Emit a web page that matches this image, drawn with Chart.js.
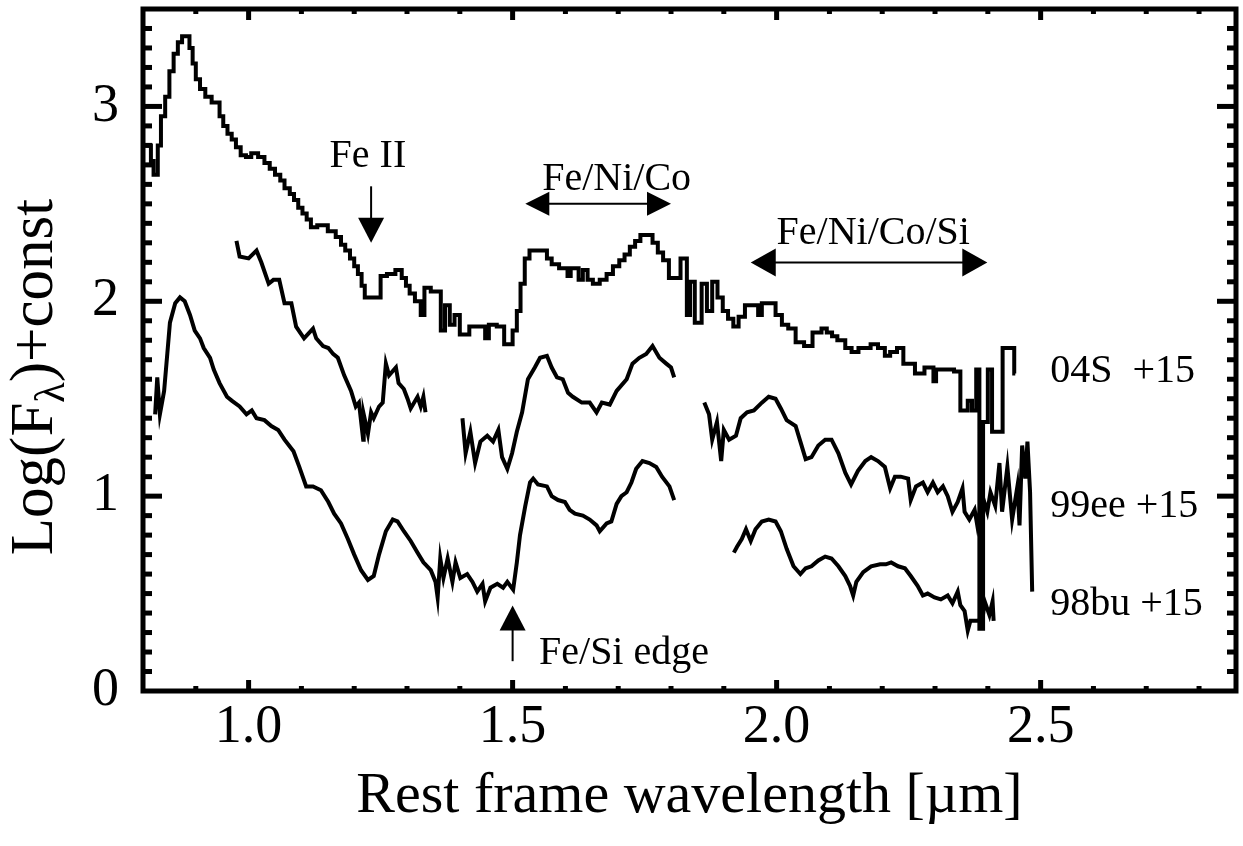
<!DOCTYPE html>
<html>
<head>
<meta charset="utf-8">
<script src="https://cdn.jsdelivr.net/npm/chart.js@4.4.1/dist/chart.umd.min.js"></script>
<style>
	body { margin: 0; background: #fff; }
	#wrap { width: 1243px; height: 846px; }
</style>
</head>
<body>
<div id="wrap"><canvas id="chart" width="1243" height="846"></canvas></div>
<script>
// SN 2004S, binned spectrum (drawn as steps)
const sn04sWave = [
	0.806,0.815,0.820,0.828,0.834,0.842,0.850,0.858,0.866,0.874,
	0.888,0.894,0.900,0.908,0.918,0.930,0.945,0.952,0.960,0.968,
	0.976,0.985,0.995,1.005,1.018,1.030,1.040,1.050,1.060,1.068,
	1.078,1.086,1.094,1.102,1.110,1.118,1.130,1.150,1.165,1.175,
	1.183,1.192,1.200,1.207,1.214,1.220,1.250,1.262,1.278,1.290,
	1.298,1.305,1.315,1.326,1.333,1.345,1.364,1.372,1.381,1.390,
	1.400,1.418,1.432,1.448,1.455,1.470,1.484,1.500,1.508,1.515,
	1.523,1.532,1.565,1.574,1.588,1.604,1.610,1.625,1.633,1.642,
	1.652,1.665,1.678,1.690,1.702,1.712,1.722,1.732,1.742,1.765,
	1.775,1.785,1.796,1.818,1.830,1.836,1.845,1.858,1.868,1.878,
	1.888,1.898,1.908,1.918,1.928,1.940,1.965,1.972,1.998,2.010,
	2.022,2.036,2.052,2.068,2.085,2.095,2.105,2.115,2.130,2.142,
	2.155,2.178,2.192,2.205,2.215,2.228,2.240,2.262,2.280,2.297,
	2.302,2.336,2.348,2.362,2.370,2.378,2.384,2.391,2.400,2.408,
	2.428,2.450,2.452
];
const sn04sFlux = [
	2.80,2.72,2.65,2.80,2.95,3.05,3.18,3.27,3.33,3.36,
	3.30,3.22,3.14,3.09,3.05,3.02,2.95,2.90,2.86,2.83,
	2.79,2.75,2.74,2.76,2.74,2.71,2.68,2.65,2.62,2.58,
	2.55,2.52,2.48,2.45,2.42,2.38,2.39,2.36,2.33,2.29,
	2.26,2.22,2.18,2.14,2.08,2.02,2.13,2.14,2.16,2.12,
	2.08,2.04,2.00,1.93,2.07,2.05,1.85,1.98,1.88,1.93,
	1.83,1.87,1.87,1.81,1.88,1.87,1.78,1.85,1.95,2.09,
	2.22,2.26,2.22,2.19,2.17,2.13,2.17,2.11,2.16,2.11,
	2.09,2.11,2.14,2.18,2.21,2.24,2.28,2.31,2.34,2.30,
	2.25,2.21,2.12,2.22,1.93,2.10,1.89,2.09,1.95,2.10,
	2.02,1.95,1.91,1.87,1.92,1.98,1.93,1.99,1.93,1.88,
	1.86,1.79,1.77,1.84,1.86,1.84,1.82,1.80,1.76,1.74,
	1.76,1.78,1.76,1.72,1.74,1.76,1.68,1.63,1.66,1.59,
	1.65,1.64,1.44,1.49,1.44,1.65,0.32,1.38,1.65,1.33,
	1.76,1.63,1.63
];

// SN 1999ee, three pieces (gaps at the telluric bands)
const sn99eeWaveA = [0.977,0.983,1.000,1.015,1.024,1.038,1.047,1.058,1.068,1.081,1.090,1.105,1.122,1.128,1.141,1.151,1.160,1.169,1.181,1.194,1.203,1.209,1.217,1.218,1.226,1.232,1.237,1.247,1.254,1.260,1.266,1.279,1.284,1.294,1.301,1.307,1.320,1.326,1.331,1.335];
const sn99eeFluxA = [2.31,2.23,2.22,2.26,2.20,2.09,2.11,2.11,1.99,1.99,1.87,1.81,1.86,1.81,1.77,1.76,1.73,1.71,1.62,1.54,1.46,1.48,1.29,1.42,1.32,1.43,1.40,1.46,1.48,1.68,1.62,1.66,1.58,1.55,1.50,1.45,1.51,1.46,1.51,1.43];
const sn99eeWaveB = [1.405,1.411,1.420,1.429,1.439,1.452,1.463,1.473,1.480,1.490,1.499,1.508,1.518,1.529,1.542,1.552,1.565,1.574,1.584,1.595,1.605,1.614,1.631,1.646,1.659,1.669,1.684,1.697,1.716,1.727,1.740,1.753,1.765,1.778,1.791,1.800,1.806];
const sn99eeFluxB = [1.40,1.22,1.33,1.17,1.28,1.31,1.28,1.34,1.20,1.14,1.22,1.33,1.43,1.60,1.66,1.71,1.72,1.66,1.61,1.60,1.53,1.51,1.48,1.48,1.43,1.48,1.47,1.54,1.60,1.68,1.71,1.73,1.77,1.71,1.68,1.66,1.61];
const sn99eeWaveC = [1.863,1.872,1.878,1.887,1.895,1.900,1.910,1.923,1.932,1.944,1.957,1.972,1.985,1.998,2.008,2.019,2.036,2.045,2.055,2.066,2.079,2.092,2.104,2.117,2.130,2.141,2.154,2.168,2.179,2.192,2.205,2.215,2.224,2.235,2.249,2.254,2.264,2.277,2.286,2.296,2.305,2.315,2.324,2.333,2.343,2.352,2.356,2.365,2.375,2.380,2.390,2.399,2.405,2.414,2.422,2.427,2.437,2.446,2.456,2.460,2.465,2.471,2.475,2.480,2.484];
const sn99eeFluxC = [1.48,1.42,1.29,1.38,1.18,1.34,1.29,1.31,1.40,1.43,1.44,1.48,1.51,1.50,1.45,1.39,1.36,1.28,1.19,1.20,1.26,1.29,1.29,1.22,1.12,1.06,1.13,1.18,1.20,1.18,1.15,1.04,1.10,1.10,1.09,0.98,1.05,1.07,1.02,1.07,1.02,1.05,1.00,0.92,0.97,1.04,0.92,0.88,0.93,0.85,1.00,0.92,1.02,0.95,1.17,0.92,1.15,0.88,1.05,0.85,1.26,1.09,1.28,1.02,0.51];

// SN 1998bu, two pieces
const sn98buWaveA = [
	0.823,0.827,0.832,0.840,0.846,0.851,0.861,0.870,0.879,0.889,
	0.898,0.908,0.915,0.927,0.934,0.945,0.959,0.968,0.983,0.996,
	1.006,1.015,1.030,1.043,1.056,1.068,1.085,1.096,1.109,1.122,
	1.137,1.151,1.162,1.175,1.188,1.200,1.213,1.226,1.237,1.247,
	1.260,1.273,1.282,1.294,1.307,1.320,1.331,1.345,1.354,1.358,
	1.363,1.369,1.377,1.386,1.392,1.401,1.414,1.424,1.433,1.443,
	1.448,1.458,1.471,1.482,1.490,1.501,1.508,1.514,1.524,1.533,
	1.539,1.548,1.565,1.574,1.586,1.599,1.608,1.618,1.633,1.646,
	1.659,1.665,1.678,1.687,1.697,1.706,1.716,1.725,1.734,1.746,
	1.759,1.772,1.783,1.797,1.806
];
const sn98buFluxA = [
	1.42,1.61,1.42,1.54,1.73,1.89,1.99,2.02,2.00,1.93,
	1.85,1.81,1.76,1.71,1.65,1.58,1.51,1.49,1.46,1.42,
	1.44,1.40,1.39,1.36,1.34,1.29,1.23,1.15,1.05,1.05,
	1.03,0.97,0.91,0.86,0.78,0.70,0.62,0.57,0.59,0.70,
	0.82,0.88,0.87,0.82,0.77,0.71,0.66,0.62,0.56,0.48,
	0.68,0.58,0.68,0.56,0.66,0.58,0.60,0.56,0.51,0.55,
	0.46,0.53,0.55,0.53,0.56,0.52,0.66,0.80,0.95,1.07,
	1.09,1.06,1.05,1.00,0.98,0.97,0.93,0.91,0.90,0.88,
	0.85,0.82,0.86,0.87,0.96,1.00,1.02,1.07,1.14,1.18,
	1.17,1.15,1.10,1.05,0.98
];
const sn98buWaveB = [1.919,1.925,1.934,1.942,1.951,1.960,1.972,1.985,1.998,2.008,2.019,2.032,2.045,2.055,2.066,2.079,2.092,2.104,2.117,2.130,2.139,2.145,2.151,2.164,2.179,2.196,2.207,2.217,2.230,2.243,2.254,2.267,2.277,2.286,2.299,2.311,2.324,2.333,2.343,2.348,2.356,2.362,2.367,2.380,2.390,2.394,2.403,2.409,2.411];
const sn98buFluxB = [0.71,0.74,0.78,0.83,0.77,0.83,0.87,0.88,0.87,0.82,0.73,0.64,0.60,0.63,0.64,0.67,0.69,0.68,0.64,0.59,0.54,0.49,0.56,0.61,0.64,0.65,0.65,0.66,0.64,0.63,0.59,0.54,0.49,0.50,0.48,0.47,0.49,0.45,0.51,0.44,0.41,0.31,0.36,0.36,0.37,0.46,0.39,0.46,0.36];

const seriesLabels = ['04S  +15', '99ee +15', '98bu +15'];
const xTickValues = [1.0, 1.5, 2.0, 2.5];
const yTickValues = [0, 1, 2, 3];

const serif = '"Liberation Serif", "Times New Roman", serif';

const toPoints = (wave, flux) => wave.map((w, i) => ({ x: w, y: flux[i] }));

const lineSet = (label, wave, flux, stepped) => ({
	label,
	data: toPoints(wave, flux),
	borderColor: '#000',
	borderWidth: 4,
	pointRadius: 0,
	fill: false,
	tension: 0,
	stepped: stepped || false
});

const arrowHead = (ctx, tx, ty, dx, dy, len, half) => {
	// tip at (tx,ty), pointing along (dx,dy)
	ctx.beginPath();
	ctx.moveTo(tx, ty);
	ctx.lineTo(tx - dx * len - dy * half, ty - dy * len + dx * half);
	ctx.lineTo(tx - dx * len + dy * half, ty - dy * len - dx * half);
	ctx.closePath();
	ctx.fill();
};

const decorations = {
	id: 'decorations',
	afterDraw(chart) {
		const { ctx, chartArea: a, scales: { x, y } } = chart;
		ctx.save();
		ctx.fillStyle = '#000';
		ctx.strokeStyle = '#000';

		// frame
		ctx.lineWidth = 5;
		ctx.strokeRect(a.left, a.top, a.right - a.left, a.bottom - a.top);

		// inward ticks on all four sides
		for (let i = 9; i <= 28; i++) {
			const px = x.getPixelForValue(i / 10);
			const len = i % 5 === 0 ? 11 : 5;
			ctx.fillRect(px - 2.5, a.bottom - len, 5, len);
			ctx.fillRect(px - 2.5, a.top, 5, len);
		}
		for (let i = 1; i <= 34; i++) {
			const py = y.getPixelForValue(i / 10);
			const len = i % 10 === 0 ? 19 : 9;
			ctx.fillRect(a.left, py - 2.5, len, 5);
			ctx.fillRect(a.right - len, py - 2.5, len, 5);
		}

		// annotations
		ctx.font = '40px ' + serif;
		ctx.textBaseline = 'alphabetic';
		ctx.lineWidth = 2;

		ctx.textAlign = 'center';
		ctx.fillText('Fe II', x.getPixelForValue(1.226), y.getPixelForValue(2.69));
		let ax = x.getPixelForValue(1.232);
		let tip = y.getPixelForValue(2.30);
		ctx.beginPath();
		ctx.moveTo(ax, y.getPixelForValue(2.59));
		ctx.lineTo(ax, tip - 20);
		ctx.stroke();
		arrowHead(ctx, ax, tip, 0, 1, 25, 13);

		ctx.fillText('Fe/Ni/Co', x.getPixelForValue(1.697), y.getPixelForValue(2.57));
		let ay = y.getPixelForValue(2.50);
		let x1 = x.getPixelForValue(1.524), x2 = x.getPixelForValue(1.800);
		ctx.beginPath(); ctx.moveTo(x1 + 10, ay); ctx.lineTo(x2 - 10, ay); ctx.stroke();
		arrowHead(ctx, x1, ay, -1, 0, 24, 12);
		arrowHead(ctx, x2, ay, 1, 0, 24, 12);

		ctx.fillText('Fe/Ni/Co/Si', x.getPixelForValue(2.183), y.getPixelForValue(2.296));
		ay = y.getPixelForValue(2.199);
		x1 = x.getPixelForValue(1.951); x2 = x.getPixelForValue(2.399);
		ctx.beginPath(); ctx.moveTo(x1 + 10, ay); ctx.lineTo(x2 - 10, ay); ctx.stroke();
		arrowHead(ctx, x1, ay, -1, 0, 25, 14);
		arrowHead(ctx, x2, ay, 1, 0, 25, 14);

		ctx.textAlign = 'left';
		ctx.fillText('Fe/Si edge', x.getPixelForValue(1.550), y.getPixelForValue(0.138));
		ax = x.getPixelForValue(1.5);
		tip = y.getPixelForValue(0.439);
		ctx.beginPath();
		ctx.moveTo(ax, y.getPixelForValue(0.153));
		ctx.lineTo(ax, tip + 20);
		ctx.stroke();
		arrowHead(ctx, ax, tip, 0, -1, 25, 13);

		// object labels
		const labelY = [1.587, 0.893, 0.388];
		seriesLabels.forEach((t, i) => {
			ctx.fillText(t, x.getPixelForValue(2.518), y.getPixelForValue(labelY[i]));
		});

		// axis titles
		ctx.font = '58px ' + serif;
		ctx.textAlign = 'center';
		ctx.fillText('Rest frame wavelength [\u00b5m]', (a.left + a.right) / 2, 812);

		ctx.translate(52, 377);
		ctx.rotate(-Math.PI / 2);
		ctx.textAlign = 'left';
		const p1 = 'Log(F', sub = '\u03bb', p2 = ')+const';
		ctx.font = '61px ' + serif;
		const w1 = ctx.measureText(p1).width;
		const w3 = ctx.measureText(p2).width;
		ctx.font = '42px ' + serif;
		const w2 = ctx.measureText(sub).width;
		const x0 = -(w1 + w2 + w3) / 2;
		ctx.font = '61px ' + serif;
		ctx.fillText(p1, x0, 0);
		ctx.fillText(p2, x0 + w1 + w2, 0);
		ctx.font = '42px ' + serif;
		ctx.fillText(sub, x0 + w1, 12);
		ctx.restore();
	}
};

new Chart(document.getElementById('chart'), {
	type: 'line',
	data: {
		datasets: [
			lineSet('04S', sn04sWave, sn04sFlux, true),
			lineSet('99ee', sn99eeWaveA, sn99eeFluxA),
			lineSet('99ee', sn99eeWaveB, sn99eeFluxB),
			lineSet('99ee', sn99eeWaveC, sn99eeFluxC),
			lineSet('98bu', sn98buWaveA, sn98buFluxA),
			lineSet('98bu', sn98buWaveB, sn98buFluxB)
		]
	},
	options: {
		responsive: false,
		animation: false,
		devicePixelRatio: 1,
		layout: { padding: { top: 9, right: 7, left: 0, bottom: 0 } },
		plugins: {
			legend: { display: false },
			tooltip: { enabled: false }
		},
		scales: {
			x: {
				type: 'linear',
				min: 0.8,
				max: 2.87,
				grid: { display: false },
				border: { display: false },
				afterFit: scale => {
					scale.height = 155;
					scale.paddingLeft = 0;
					scale.paddingRight = 0;
				},
				afterBuildTicks: scale => { scale.ticks = xTickValues.map(v => ({ value: v })); },
				ticks: {
					padding: -4,
					maxRotation: 0,
					autoSkip: false,
					color: '#000',
					font: { family: serif, size: 54 },
					callback: v => v.toFixed(1)
				}
			},
			y: {
				type: 'linear',
				min: 0,
				max: 3.5,
				grid: { display: false },
				border: { display: false },
				afterFit: scale => {
					scale.width = 143;
					scale.paddingTop = 0;
					scale.paddingBottom = 0;
				},
				afterBuildTicks: scale => { scale.ticks = yTickValues.map(v => ({ value: v })); },
				ticks: {
					padding: 16,
					autoSkip: false,
					color: '#000',
					font: { family: serif, size: 54 },
					callback: v => String(v)
				}
			}
		}
	},
	plugins: [decorations]
});
</script>
</body>
</html>
